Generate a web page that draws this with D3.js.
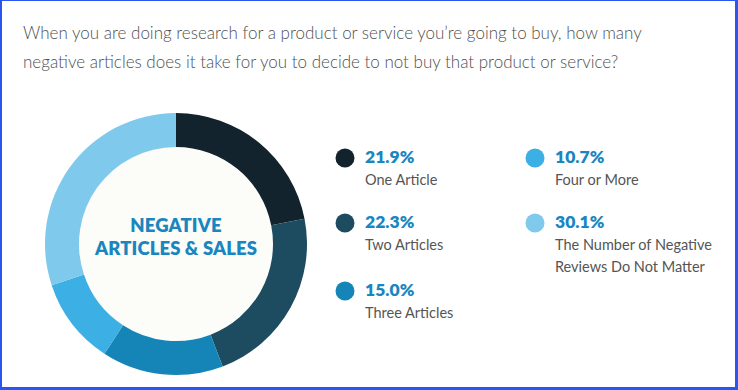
<!DOCTYPE html>
<html>
<head>
<meta charset="utf-8">
<script src="https://cdn.jsdelivr.net/npm/d3@7"></script>
<style>
  html, body { margin: 0; padding: 0; background: #fff; }
  svg { display: block; }
  text { font-family: Lato, "Open Sans", sans-serif; }
</style>
</head>
<body>
<svg id="chart" width="738" height="390"></svg>
<script>
// values
var categories = ['One Article', 'Two Articles', 'Three Articles', 'Four or More', 'The Number of Negative Reviews Do Not Matter'];
var shares = [21.9, 22.3, 15.0, 10.7, 30.1];
var colors = ['#13232e', '#1d4b60', '#1585b8', '#3cb0e4', '#7fcaec'];
var titleLines = [
  'When you are doing research for a product or service you\u2019re going to buy, how many',
  'negative articles does it take for you to decide to not buy that product or service?'
];
var centerLines = ['NEGATIVE', 'ARTICLES & SALES'];

var svg = d3.select('#chart');
var W = 738, H = 390;

// frame
svg.append('rect').attr('x', 0).attr('y', 0).attr('width', W).attr('height', H).attr('fill', '#2a55f0');
svg.append('rect').attr('x', 2).attr('y', 1).attr('width', W - 5).attr('height', H - 4).attr('fill', '#fff');

// title
svg.append('g')
  .selectAll('text')
  .data(titleLines)
  .enter()
  .append('text')
  .attr('x', 23)
  .attr('y', (d, i) => 39 + i * 29)
  .attr('font-size', 17)
  .attr('font-weight', 300)
  .attr('fill', '#505050')
  .text(d => d);

// donut
var cx = 176, cy = 244, outerR = 131, innerR = 97;
var data = categories.map((c, i) => ({ name: c, value: shares[i], color: colors[i] }));

var pie = d3.pie().value(d => d.value).sort(null);
var arc = d3.arc().innerRadius(innerR).outerRadius(outerR);

var donut = svg.append('g').attr('transform', 'translate(' + cx + ',' + cy + ')');
donut.append('circle').attr('r', innerR).attr('fill', '#fcfcf9');
donut.selectAll('path')
  .data(pie(data))
  .enter()
  .append('path')
  .attr('d', arc)
  .attr('fill', d => d.data.color);

donut.selectAll('text.center')
  .data(centerLines)
  .enter()
  .append('text')
  .attr('class', 'center')
  .attr('text-anchor', 'middle')
  .attr('y', (d, i) => -12 + i * 22.5)
  .attr('font-size', 18.5)
  .attr('font-weight', 800)
  .attr('letter-spacing', 0.1)
  .attr('fill', '#1a86bf')
  .text(d => d);

// legend: first three in left column, rest in right
var legendPos = [[345, 158], [345, 223], [345, 291], [535, 158], [535, 223]];
var labelLines = [['One Article'], ['Two Articles'], ['Three Articles'], ['Four or More'], ['The Number of Negative', 'Reviews Do Not Matter']];

var items = svg.selectAll('g.item')
  .data(data)
  .enter()
  .append('g')
  .attr('class', 'item')
  .attr('transform', (d, i) => 'translate(' + legendPos[i][0] + ',' + legendPos[i][1] + ')');

items.append('circle').attr('r', 9.5).attr('fill', d => d.color);

items.append('text')
  .attr('x', 20)
  .attr('y', 5)
  .attr('font-size', 17.5)
  .attr('font-weight', 800)
  .attr('fill', '#1a86bf')
  .text(d => d.value.toFixed(1) + '%');

items.each(function(d, i) {
  d3.select(this).selectAll('text.label')
    .data(labelLines[i])
    .enter()
    .append('text')
    .attr('class', 'label')
    .attr('x', 20)
    .attr('y', (t, j) => 27 + j * 21.5)
    .attr('font-size', 14.5)
    .attr('font-weight', 400)
    .attr('fill', '#555')
    .text(t => t);
});
</script>
</body>
</html>
